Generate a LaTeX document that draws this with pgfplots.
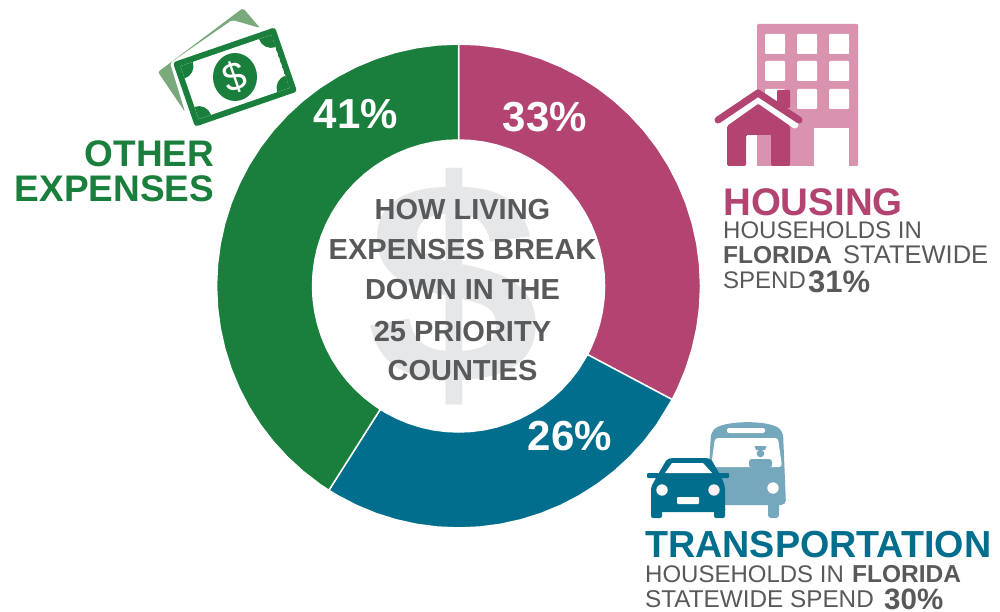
\documentclass[border=0pt]{standalone}
\usepackage{fontspec}
\setmainfont{Liberation Sans}
\usepackage{graphicx}
\usepackage{pgfplots}
\pgfplotsset{compat=1.18}
\definecolor{pinkc}{HTML}{B34472}
\definecolor{pinkl}{HTML}{D993AE}
\definecolor{tealc}{HTML}{006E8C}
\definecolor{teall}{HTML}{76A8BD}
\definecolor{greenc}{HTML}{1A7F3C}
\definecolor{greenl}{HTML}{7AAA7B}
\definecolor{grayc}{HTML}{58595B}
\definecolor{dollarc}{HTML}{E6E7E8}
\newcommand{\fs}[1]{\fontsize{#1}{#1}\selectfont}
\begin{document}
\begin{tikzpicture}
\useasboundingbox (0,0) rectangle (1000pt,611pt);
% Shares: 33 / 26 / 41 per cent, as angles from 90 degrees clockwise
\begin{axis}[at={(0pt,0pt)},anchor=south west,scale only axis,width=1000pt,height=611pt,
  xmin=-458.5,xmax=541.5,ymin=-325,ymax=286,hide axis,clip=false]
\addplot[data cs=polar,fill=pinkc,draw=white,line width=1.5pt,line join=round] coordinates {
(90,242)(85,242)(80,242)(75,242)(70,242)(65,242)(60,242)(55,242)(50,242)(45,242)(40,242)(35,242)(30,242)(25,242)(20,242)(15,242)(10,242)(5,242)(0,242)(-5,242)(-10,242)(-15,242)(-20,242)(-25,242)(-28,242)
(-28,146)(-25,146)(-20,146)(-15,146)(-10,146)(-5,146)(0,146)(5,146)(10,146)(15,146)(20,146)(25,146)(30,146)(35,146)(40,146)(45,146)(50,146)(55,146)(60,146)(65,146)(70,146)(75,146)(80,146)(85,146)(90,146)
} --cycle;
\addplot[data cs=polar,fill=tealc,draw=white,line width=1.5pt,line join=round] coordinates {
(-28,242)(-35,242)(-40,242)(-45,242)(-50,242)(-55,242)(-60,242)(-65,242)(-70,242)(-75,242)(-80,242)(-85,242)(-90,242)(-95,242)(-100,242)(-105,242)(-110,242)(-115,242)(-120,242)(-122.4,242)
(-122.4,146)(-120,146)(-115,146)(-110,146)(-105,146)(-100,146)(-95,146)(-90,146)(-85,146)(-80,146)(-75,146)(-70,146)(-65,146)(-60,146)(-55,146)(-50,146)(-45,146)(-40,146)(-35,146)(-28,146)
} --cycle;
\addplot[data cs=polar,fill=greenc,draw=white,line width=1.5pt,line join=round] coordinates {
(-122.4,242)(-125,242)(-130,242)(-135,242)(-140,242)(-145,242)(-150,242)(-155,242)(-160,242)(-165,242)(-170,242)(-175,242)(-180,242)(-185,242)(-190,242)(-195,242)(-200,242)(-205,242)(-210,242)(-215,242)(-220,242)(-225,242)(-230,242)(-235,242)(-240,242)(-245,242)(-250,242)(-255,242)(-260,242)(-265,242)(-270,242)
(-270,146)(-265,146)(-260,146)(-255,146)(-250,146)(-245,146)(-240,146)(-235,146)(-230,146)(-225,146)(-220,146)(-215,146)(-210,146)(-205,146)(-200,146)(-195,146)(-190,146)(-185,146)(-180,146)(-175,146)(-170,146)(-165,146)(-160,146)(-155,146)(-150,146)(-145,146)(-140,146)(-135,146)(-130,146)(-125,146)(-122.4,146)
} --cycle;
\end{axis}
\begin{scope}[x=1pt,y=-1pt,shift={(0pt,611pt)}]
% large dollar behind the centre text
\node[text=dollarc,inner sep=0pt] at (454,287) {\fs{290}\bfseries\scalebox{1.08}[1]{\$}};
% centre text
\begin{scope}[every node/.style={anchor=base,inner sep=0pt,text=grayc,font=\fs{29}\bfseries}]
\node at (462.5,220) {HOW LIVING};
\node at (462.5,260) {EXPENSES BREAK};
\node at (462.5,300) {DOWN IN THE};
\node at (462.5,341) {25 PRIORITY};
\node at (462.5,380) {COUNTIES};
\end{scope}
% percentages
\begin{scope}[every node/.style={anchor=base,inner sep=0pt,text=white,font=\fs{42}\bfseries}]
\node at (545,132) {33\%};
\node at (356,129) {41\%};
\node at (570,450) {26\%};
\end{scope}
% other expenses
\node[anchor=base east,inner sep=0pt,text=greenc,font=\fs{37}\bfseries] at (214.5,167) {OTHER};
\node[anchor=base east,inner sep=0pt,text=greenc,font=\fs{37}\bfseries] at (214.5,202) {EXPENSES};
% housing and transportation
\begin{scope}[every node/.style={anchor=base west,inner sep=0pt,text=grayc,font=\fs{24}}]
\node[text=pinkc,font=\fs{38.5}\bfseries] at (723,216) {HOUSING};
\node at (723,239) {HOUSEHOLDS IN};
\node[font=\fs{24.5}\bfseries] at (723,264) {FLORIDA};
\node[font=\fs{25.5}] at (843,264) {STATEWIDE};
\node at (723,289) {SPEND};
\node[font=\fs{31}\bfseries] at (808,292) {31\%};
\node[text=tealc,font=\fs{37.7}\bfseries] at (645,557) {TRANSPORTATION};
\node at (645,582) {HOUSEHOLDS IN};
\node[font=\fs{24.5}\bfseries] at (852,582) {FLORIDA};
\node[font=\fs{24.3}] at (645,607) {STATEWIDE SPEND};
\node[font=\fs{29.5}\bfseries] at (884,609) {30\%};
\end{scope}
% building
\fill[pinkl,rounded corners=1pt] (757,24) rectangle (858,166);
\foreach \xx in {765,797,829}{\foreach \yy in {34,61,89}{
  \fill[white,rounded corners=1pt] (\xx,\yy) rectangle ++(20,20);}}
\fill[white] (814,128) rectangle (849,166);
% house
\fill[pinkc,rounded corners=1pt] (777,90) rectangle (790,108);
\draw[white,line width=7pt,line cap=round,line join=round] (722,125) -- (758,99) -- (795,125);
\draw[pinkc,line width=7pt,line cap=round,line join=round] (718,120) -- (758,93) -- (799,120);
\fill[pinkc,rounded corners=1.5pt]
  (727,166) -- (727,126) -- (758,104) -- (790,126) -- (790,166) -- (771,166) -- (771,135) -- (746,135) -- (746,166) -- cycle;
\fill[white] (746.5,135.5) rectangle (757,166);
\fill[pinkl] (757,135.5) rectangle (771,166);
% bus
\fill[teall,rounded corners=5pt] (707,505) -- (711,432) .. controls (725,420) and (770,420) .. (783,432) -- (786,505) -- cycle;
\fill[teall,rounded corners=3pt] (768,500) rectangle (779,518);
\fill[white,rounded corners=2pt] (727,428) rectangle (765,433);
\fill[white,rounded corners=3pt] (715,438) -- (778,438) -- (782,467) -- (711,467) -- cycle;
\fill[teall] (754.5,446) -- (766.5,446) -- (765,450) -- (756,450) -- cycle;
\fill[teall] (760.5,453.5) circle (3.8);
\fill[teall,rounded corners=3pt] (749,468) -- (749,459) -- (772,459) -- (772,468) -- cycle;
\fill[white] (773,488) circle (5.7);
% car
\fill[tealc,rounded corners=2pt] (651,512) -- (651,487) -- (656,478) -- (667,459) -- (672,458) -- (706,458) -- (711,459) -- (722,478) -- (725,487) -- (725,512) -- cycle;
\fill[tealc,rounded corners=2pt] (651,505) rectangle (662,518);
\fill[tealc,rounded corners=2pt] (714,505) rectangle (725,518);
\fill[tealc,rounded corners=1pt] (647,473) rectangle (659,478);
\fill[tealc,rounded corners=1pt] (717,473) rectangle (729,478);
\fill[white] (665,473) -- (672,463) -- (703,463) -- (712,473) -- cycle;
\fill[white] (662,490) circle (5.7);
\fill[white!85!pinkl] (714,490) circle (5.7);
\fill[white,rounded corners=1pt] (677,497) rectangle (699,504);
% back bill
\fill[greenl,rounded corners=2pt] (158,72) -- (243,8) -- (260,28) -- (243,23) -- (232,20) -- (170,63) -- (185,112) -- cycle;
% front bill
\begin{scope}[shift={(235,77)},rotate=19]
\fill[greenc,rounded corners=3pt] (-54,-34) rectangle (54,34);
\begin{scope}
\clip (-48,-28) rectangle (48,28);
\fill[white] (-48,-28) rectangle (48,28);
\fill[greenc] (-48,-28) circle (13);
\fill[greenc] (48,-28) circle (13);
\fill[greenc] (-48,28) circle (13);
\fill[greenc] (48,28) circle (13);
\end{scope}
\end{scope}
\fill[greenc] (235,77) ellipse (22 and 24);
\node[text=white,inner sep=0pt,rotate=19] at (235,77) {\fs{40}\$};
\end{scope}
\end{tikzpicture}
\end{document}
